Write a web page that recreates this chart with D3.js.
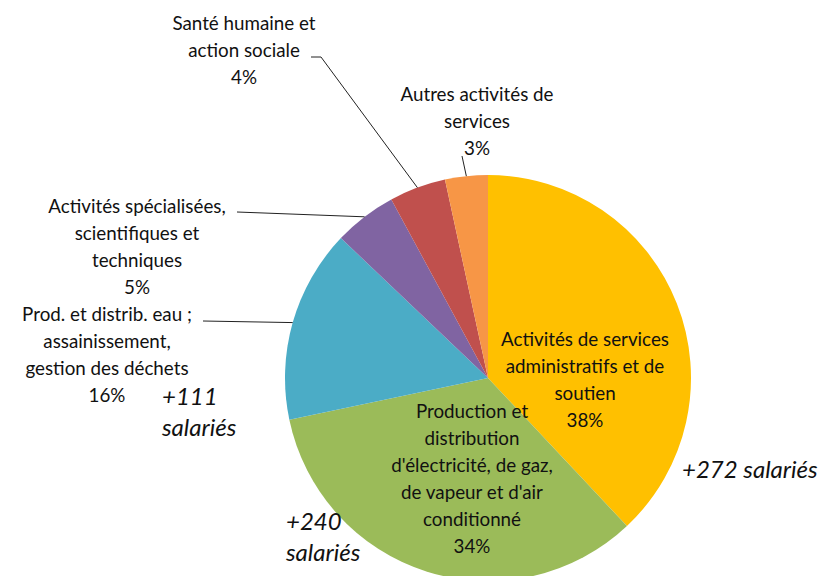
<!DOCTYPE html>
<html><head><meta charset="utf-8">
<script src="https://cdn.jsdelivr.net/npm/d3@7"></script>
<style>body{margin:0;background:#fff}svg{display:block}</style>
</head><body>
<svg id="c" width="824" height="576"></svg>
<script>
const categories = [
  "Activités de services administratifs et de soutien",
  "Production et distribution d'électricité, de gaz, de vapeur et d'air conditionné",
  "Prod. et distrib. eau ; assainissement, gestion des déchets",
  "Activités spécialisées, scientifiques et techniques",
  "Santé humaine et action sociale",
  "Autres activités de services"
];
const shares = [38.0, 33.7, 15.4, 5.0, 4.5, 3.4];
const pctLabels = ["38%", "34%", "16%", "5%", "4%", "3%"];
const labelLines = [
  ["Activités de services", "administratifs et de", "soutien"],
  ["Production et", "distribution", "d'électricité, de gaz,", "de vapeur et d'air", "conditionné"],
  ["Prod. et distrib. eau ;", "assainissement,", "gestion des déchets"],
  ["Activités spécialisées,", "scientifiques et", "techniques"],
  ["Santé humaine et", "action sociale"],
  ["Autres activités de", "services"]
];
const colors = ["#FFC000", "#9BBB59", "#4BACC6", "#8064A2", "#C0504D", "#F79646"];
const annotations = [["+272 salariés"], ["+240", "salariés"], ["+111", "salariés"]];

const svg = d3.select("#c");
const cx = 488, cy = 378, r = 203;
const g = svg.append("g").attr("transform", `translate(${cx},${cy})`);
const pie = d3.pie().sort(null).value(d => d);
const arcs = pie(shares);
const arc = d3.arc().innerRadius(0).outerRadius(r);

g.selectAll("path.slice").data(arcs).join("path")
  .attr("class", "slice")
  .attr("d", arc)
  .attr("fill", (d, i) => colors[i]);

const font = "Lato, 'Open Sans', sans-serif";
const fs = 18.8, lh = 27;
const txtColor = "#111";

const layout = [
  {x: 585, y: 346},
  {x: 472, y: 418},
  {x: 107, y: 321, lead: [203, 321]},
  {x: 137, y: 213, lead: [237, 212]},
  {x: 244, y: 30,  lead: [311, 57, 321, 57]},
  {x: 477, y: 101, lead: [462, 156]}
];

arcs.forEach((a, i) => {
  const L = layout[i];
  const lines = labelLines[i].concat([pctLabels[i]]);
  const t = svg.append("text")
    .attr("font-family", font).attr("font-size", fs)
    .attr("fill", txtColor).attr("text-anchor", "middle");
  lines.forEach((s, k) => {
    t.append("tspan").attr("x", L.x).attr("y", L.y + k * lh).text(s);
  });
  if (L.lead) {
    const mid = (a.startAngle + a.endAngle) / 2;
    const px = cx + r * Math.sin(mid), py = cy - r * Math.cos(mid);
    const pts = [];
    for (let k = 0; k < L.lead.length; k += 2) pts.push([L.lead[k], L.lead[k + 1]]);
    pts.push([px, py]);
    svg.append("path").attr("d", d3.line()(pts))
      .attr("fill", "none").attr("stroke", "#222").attr("stroke-width", 1);
  }
});

const annLayout = [{x: 682, y: 478}, {x: 286, y: 530}, {x: 162, y: 405}];
annotations.forEach((lines, i) => {
  const t = svg.append("text")
    .attr("font-family", font).attr("font-size", 24).attr("font-style", "italic")
    .attr("fill", "#111");
  lines.forEach((s, k) => {
    t.append("tspan").attr("x", annLayout[i].x).attr("y", annLayout[i].y + k * 31).text(s);
  });
});
</script>
</body></html>
